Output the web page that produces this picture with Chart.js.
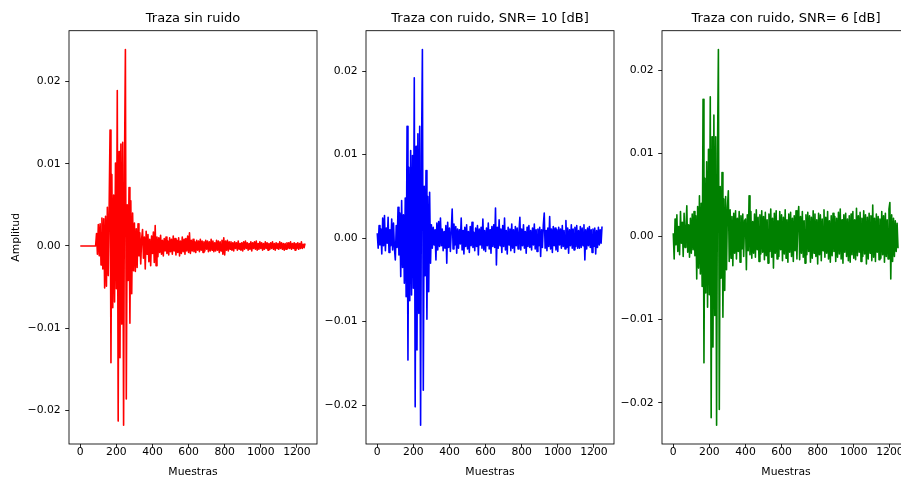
<!DOCTYPE html>
<html>
<head>
<meta charset="utf-8">
<script src="https://cdn.jsdelivr.net/npm/chart.js@4.4.1/dist/chart.umd.min.js"></script>
<style>
html, body { margin: 0; padding: 0; width: 901px; height: 478px; overflow: hidden; background: #ffffff; }
canvas.panel { position: absolute; top: 0; }
</style>
</head>
<body>
<canvas id="c1" class="panel" width="368" height="478" style="left:9px"></canvas>
<canvas id="c2" class="panel" width="368" height="478" style="left:306px"></canvas>
<canvas id="c3" class="panel" width="368" height="478" style="left:602px"></canvas>
<script>
// ---- Data (one value every PASO samples) ----
const PASO = 5;          // sampling step used when reading the traces
const N_MUESTRAS = 1250; // total samples of each trace

const titulos = ['Traza sin ruido', 'Traza con ruido, SNR= 10 [dB]', 'Traza con ruido, SNR= 6 [dB]'];
const xTicks = [0, 200, 400, 600, 800, 1000, 1200];
const yTicks = [-0.02, -0.01, 0.0, 0.01, 0.02];
const yTickLabels = ['\u22120.02', '\u22120.01', '0.00', '0.01', '0.02'];

const ampLimpia = [
 0, 0, 0, 0, 0, 0, 0, 0, 0, 0,
 0, 0, 0, 0, 0, 0, 0, 0, 0.0015, -0.0010,
 0.0026, -0.0012, 0.0027, -0.0023, 0.0034, -0.0028, 0.0033, -0.0051, 0.0036, -0.0049,
 0.0047, -0.0036, 0.0048, 0.0141, -0.0142, 0.0087, -0.0075, 0.0062, -0.0068, 0.0101,
 -0.0052, 0.0189, -0.0213, 0.0115, -0.0136, 0.0124, -0.0095, 0.0126, -0.0218, 0.0098,
 0.0239, -0.0186, 0.0050, -0.0042, 0.0071, -0.0094, 0.0055, -0.0058, 0.0040, -0.0030,
 0.0028, -0.0031, 0.0021, -0.0026, 0.0027, -0.0012, 0.0016, -0.0022, 0.0009, 0.0020,
 -0.0015, 0.0011, -0.0028, 0.0018, -0.0010, 0.0014, -0.0019, 0.0008, -0.0024, 0.0012,
 -0.0009, 0.0017, -0.0020, 0.0025, -0.0024, 0.0011, -0.0013, 0.0010, -0.0008, 0.0013,
 -0.0010, 0.0007, -0.0012, 0.0009, -0.0006, 0.0011, -0.0009, 0.0006, -0.0011, 0.0010,
 -0.0007, 0.0008, -0.0010, 0.0012, -0.0006, 0.0009, -0.0011, 0.0007, -0.0008, 0.0010,
 -0.0012, 0.0006, -0.0009, 0.0011, -0.0007, 0.0008, -0.0010, 0.0009, -0.0006, 0.0012,
 -0.0008, 0.0016, -0.0009, 0.0007, -0.0006, 0.0008, -0.0007, 0.0005, -0.0008, 0.0007,
 -0.0005, 0.0006, -0.0007, 0.0008, -0.0005, 0.0006, -0.0008, 0.0005, -0.0006, 0.0007,
 -0.0004, 0.0006, -0.0007, 0.0005, -0.0006, 0.0008, -0.0005, 0.0006, -0.0007, 0.0004,
 -0.0006, 0.0007, -0.0005, 0.0006, -0.0008, 0.0005, -0.0006, 0.0007, -0.0010, 0.0010,
 -0.0011, 0.0006, -0.0005, 0.0007, -0.0006, 0.0005, -0.0004, 0.0005, -0.0005, 0.0004,
 -0.0006, 0.0005, -0.0003, 0.0004, -0.0005, 0.0006, -0.0004, 0.0003, -0.0005, 0.0004,
 -0.0006, 0.0005, -0.0004, 0.0006, -0.0003, 0.0004, -0.0005, 0.0003, -0.0004, 0.0005,
 -0.0006, 0.0004, -0.0003, 0.0005, -0.0004, 0.0006, -0.0005, 0.0003, -0.0004, 0.0005,
 -0.0003, 0.0004, -0.0005, 0.0003, -0.0004, 0.0005, -0.0003, 0.0004, -0.0005, 0.0003,
 -0.0004, 0.0004, -0.0003, 0.0005, -0.0004, 0.0003, -0.0005, 0.0004, -0.0003, 0.0003,
 -0.0004, 0.0005, -0.0003, 0.0004, -0.0004, 0.0003, -0.0005, 0.0003, -0.0004, 0.0004,
 -0.0003, 0.0004, -0.0003, 0.0005, -0.0004, 0.0003, -0.0003, 0.0004, -0.0005, 0.0003,
 -0.0003, 0.0004, -0.0004, 0.0003, -0.0003, 0.0005, -0.0003, 0.0002, -0.0002, 0.0003
];

const ampSnr10 = [
 0.0006, -0.0012, 0.0015, -0.0008, 0.0011, -0.0019, 0.0024, -0.0009, 0.0027, -0.0015,
 0.0012, -0.0006, 0.0025, -0.0017, 0.0010, -0.0009, 0.0023, -0.0014, 0.0018, -0.0012,
 -0.0026, 0.0015, -0.0011, 0.0037, -0.0020, 0.0030, -0.0046, 0.0045, -0.0035, 0.0028,
 -0.0054, 0.0048, -0.0070, 0.0134, -0.0146, 0.0085, -0.0075, 0.0105, -0.0068, 0.0099,
 -0.0060, 0.0192, -0.0202, 0.0110, -0.0134, 0.0125, -0.0090, 0.0134, -0.0224, 0.0098,
 0.0226, -0.0182, 0.0062, -0.0045, 0.0081, -0.0097, 0.0050, -0.0064, 0.0055, -0.0030,
 0.0016, -0.0012, 0.0013, -0.0008, 0.0010, -0.0026, 0.0018, -0.0014, 0.0020, -0.0010,
 0.0024, -0.0009, 0.0011, -0.0015, 0.0008, -0.0012, 0.0015, -0.0030, 0.0019, -0.0011,
 0.0012, -0.0016, 0.0009, 0.0035, -0.0013, 0.0017, -0.0008, 0.0014, -0.0018, 0.0011,
 -0.0012, 0.0010, -0.0007, 0.0024, -0.0014, 0.0009, -0.0019, 0.0013, -0.0010, 0.0016,
 -0.0013, 0.0008, -0.0017, 0.0014, -0.0009, 0.0019, -0.0011, 0.0007, -0.0015, 0.0012,
 -0.0010, 0.0015, -0.0020, 0.0011, -0.0008, 0.0013, -0.0012, 0.0023, -0.0014, 0.0009,
 -0.0016, 0.0012, -0.0009, 0.0018, -0.0013, 0.0010, -0.0018, 0.0014, -0.0010, 0.0016,
 -0.0011, 0.0036, -0.0032, 0.0013, -0.0012, 0.0022, -0.0009, 0.0011, -0.0017, 0.0015,
 -0.0010, 0.0024, -0.0014, 0.0009, -0.0019, 0.0013, -0.0008, 0.0011, -0.0015, 0.0017,
 -0.0012, 0.0010, -0.0017, 0.0014, -0.0009, 0.0012, -0.0013, 0.0008, 0.0025, -0.0014,
 0.0011, -0.0009, 0.0016, -0.0012, 0.0008, -0.0018, 0.0013, -0.0010, 0.0015, -0.0011,
 0.0009, -0.0014, 0.0012, -0.0008, 0.0017, -0.0013, 0.0010, -0.0016, 0.0011, -0.0009,
 0.0013, -0.0022, 0.0010, -0.0011, 0.0016, 0.0030, -0.0012, 0.0009, -0.0015, 0.0012,
 -0.0010, 0.0026, -0.0013, 0.0011, -0.0017, 0.0014, -0.0009, 0.0012, -0.0014, 0.0010,
 -0.0016, 0.0013, -0.0008, 0.0011, -0.0012, 0.0015, -0.0010, 0.0009, -0.0013, 0.0021,
 -0.0011, 0.0012, -0.0018, 0.0010, -0.0009, 0.0016, -0.0012, 0.0011, -0.0014, 0.0013,
 -0.0010, 0.0015, -0.0012, 0.0009, -0.0012, 0.0014, -0.0011, 0.0012, -0.0009, 0.0016,
 -0.0026, 0.0010, -0.0013, 0.0012, -0.0009, 0.0014, -0.0011, 0.0010, -0.0017, 0.0011,
 -0.0010, 0.0012, -0.0019, 0.0009, -0.0011, 0.0013, -0.0008, 0.0010, -0.0006, 0.0014
];

const ampSnr6 = [
 0.0004, -0.0027, 0.0021, -0.0010, 0.0026, -0.0018, 0.0012, -0.0022, 0.0030, -0.0008,
 0.0017, -0.0024, 0.0028, -0.0013, 0.0009, 0.0037, -0.0019, 0.0014, -0.0025, 0.0022,
 -0.0020, 0.0027, -0.0016, 0.0030, -0.0023, 0.0025, -0.0051, 0.0036, -0.0038, 0.0049,
 -0.0045, 0.0040, -0.0060, 0.0165, -0.0152, 0.0070, -0.0068, 0.0090, -0.0085, 0.0105,
 -0.0070, 0.0168, -0.0218, 0.0120, -0.0133, 0.0146, -0.0095, 0.0120, -0.0227, 0.0100,
 0.0225, -0.0208, 0.0060, -0.0050, 0.0077, -0.0097, 0.0045, -0.0065, 0.0048, -0.0040,
 0.0035, 0.0055, -0.0030, 0.0032, -0.0026, 0.0024, -0.0035, 0.0028, -0.0020, 0.0031,
 -0.0027, 0.0022, -0.0018, 0.0030, -0.0031, 0.0025, -0.0015, 0.0027, -0.0024, 0.0019,
 0.0021, -0.0040, 0.0026, -0.0017, 0.0049, -0.0022, 0.0030, -0.0026, 0.0018, -0.0020,
 0.0027, -0.0025, 0.0032, -0.0016, 0.0023, -0.0030, 0.0026, -0.0021, 0.0031, -0.0019,
 0.0024, -0.0028, 0.0029, -0.0023, 0.0020, -0.0032, 0.0027, -0.0018, 0.0033, -0.0025,
 0.0022, -0.0038, 0.0028, -0.0020, 0.0031, -0.0027, 0.0019, -0.0024, 0.0030, -0.0016,
 0.0026, -0.0029, 0.0023, -0.0021, 0.0032, -0.0026, 0.0020, -0.0031, 0.0027, -0.0019,
 0.0029, -0.0024, 0.0022, -0.0030, 0.0025, -0.0017, 0.0031, -0.0027, 0.0021, 0.0036,
 -0.0028, 0.0024, -0.0020, 0.0030, -0.0025, 0.0019, -0.0032, 0.0026, -0.0022, 0.0029,
 -0.0018, 0.0025, -0.0031, 0.0023, -0.0026, 0.0031, -0.0020, 0.0027, -0.0024, 0.0020,
 -0.0033, 0.0028, -0.0022, 0.0026, -0.0029, 0.0021, -0.0017, 0.0032, -0.0025, 0.0023,
 -0.0020, 0.0030, -0.0027, 0.0019, -0.0031, 0.0025, -0.0023, 0.0028, -0.0018, 0.0024,
 -0.0030, 0.0022, -0.0025, 0.0029, -0.0021, 0.0033, -0.0027, 0.0020, -0.0032, 0.0026,
 -0.0019, 0.0028, -0.0024, 0.0021, -0.0029, 0.0025, -0.0031, 0.0027, -0.0022, 0.0030,
 -0.0026, 0.0020, -0.0028, 0.0034, -0.0023, 0.0025, -0.0019, 0.0029, -0.0030, 0.0022,
 -0.0024, 0.0031, -0.0021, 0.0026, -0.0033, 0.0023, -0.0027, 0.0028, -0.0020, 0.0025,
 -0.0029, 0.0038, -0.0025, 0.0022, -0.0030, 0.0027, -0.0019, 0.0024, -0.0028, 0.0021,
 -0.0026, 0.0030, -0.0022, 0.0025, -0.0031, 0.0028, -0.0024, 0.0020, -0.0027, 0.0033,
 0.0041, -0.0051, 0.0026, -0.0030, 0.0022, -0.0024, 0.0019, -0.0018, 0.0016, -0.0014
];

// ---- Rendering ----
const FONT = "'DejaVu Sans', sans-serif";
const MARGEN = 60; // space reserved on each side of the plot area inside a canvas

const framePlugin = {
  id: 'frame',
  afterDraw(chart) {
    const a = chart.chartArea, ctx = chart.ctx;
    ctx.save();
    ctx.strokeStyle = '#000';
    ctx.lineWidth = 0.85;
    ctx.strokeRect(a.left, a.top, a.right - a.left, a.bottom - a.top);
    ctx.restore();
  }
};

function makeChart(id, titulo, valores, color, conTituloY) {
  const muestras = valores.map((_, i) => i * PASO);
  const puntos = valores.map((v, i) => ({ x: muestras[i], y: v }));
  const lo = Math.min(...valores), hi = Math.max(...valores);
  const my = 0.05 * (hi - lo);
  const xLast = N_MUESTRAS - 1;
  const mx = 0.05 * xLast;
  const tickFont = { family: FONT, size: 10.8 };
  new Chart(document.getElementById(id), {
    type: 'line',
    data: { datasets: [{
      data: puntos, borderColor: color, borderWidth: 1.6, pointRadius: 0,
      tension: 0, fill: false, borderJoinStyle: 'round', borderCapStyle: 'butt'
    }] },
    options: {
      responsive: false, animation: false, events: [],
      layout: { padding: 0 },
      plugins: {
        legend: { display: false }, tooltip: { enabled: false },
        title: { display: true, text: titulo, color: '#000',
                 font: { family: FONT, size: 13, weight: 'normal' },
                 padding: { top: 11.2, bottom: 3.9 } }
      },
      scales: {
        x: {
          type: 'linear', min: -mx, max: xLast + mx,
          afterFit(s) { s.height = 34; },
          afterBuildTicks(s) { s.ticks = xTicks.map(v => ({ value: v })); },
          ticks: { color: '#000', font: tickFont, padding: -2, maxRotation: 0,
                   callback: v => String(v) },
          grid: { drawOnChartArea: false, drawTicks: true, tickLength: 3.8, color: '#000', lineWidth: 0.85 },
          border: { display: false },
          title: { display: true, text: 'Muestras', color: '#000', font: tickFont, padding: { top: 0, bottom: -0.7 } }
        },
        y: {
          type: 'linear', position: 'left', min: lo - my, max: hi + my,
          afterFit(s) { s.width = MARGEN; },
          afterBuildTicks(s) { s.ticks = yTicks.map(v => ({ value: v })); },
          ticks: { color: '#000', font: tickFont, padding: 4.5,
                   callback: (v) => yTickLabels[yTicks.findIndex(t => Math.abs(t - v) < 1e-9)] },
          grid: { drawOnChartArea: false, drawTicks: true, tickLength: 3.8, color: '#000', lineWidth: 0.85 },
          border: { display: false },
          title: { display: conTituloY, text: 'Amplitud', color: '#000', font: tickFont, padding: { top: 0.5, bottom: 0 } }
        },
        margenDer: {
          type: 'linear', position: 'right', display: true,
          afterFit(s) { s.width = MARGEN; },
          ticks: { display: false },
          grid: { display: false },
          border: { display: false }
        }
      }
    },
    plugins: [framePlugin]
  });
}

makeChart('c1', titulos[0], ampLimpia, '#ff0000', true);
makeChart('c2', titulos[1], ampSnr10, '#0000ff', false);
makeChart('c3', titulos[2], ampSnr6, '#008000', false);
</script>
</body>
</html>
